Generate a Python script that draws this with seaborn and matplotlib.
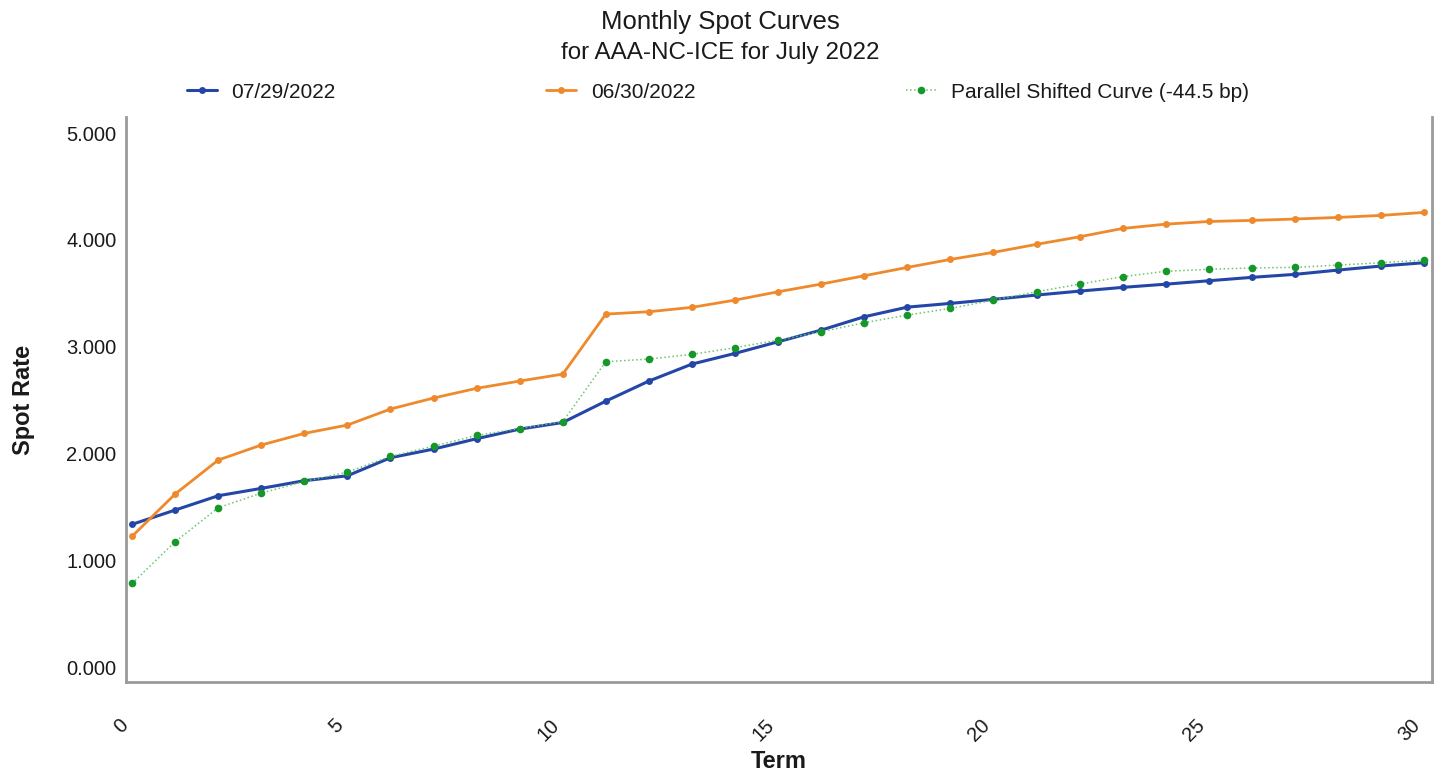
import numpy as np
import pandas as pd
import seaborn as sns
import matplotlib.pyplot as plt

terms = list(range(0, 31))

spot_0729 = [1.336, 1.470, 1.604, 1.673, 1.745, 1.791, 1.960, 2.041, 2.138, 2.228,
             2.290, 2.490, 2.678, 2.837, 2.937, 3.046, 3.155, 3.280, 3.370, 3.405,
             3.443, 3.483, 3.520, 3.555, 3.585, 3.617, 3.649, 3.677, 3.717, 3.755,
             3.786]

spot_0630 = [1.224, 1.620, 1.938, 2.079, 2.188, 2.266, 2.416, 2.519, 2.610, 2.678,
             2.743, 3.305, 3.327, 3.368, 3.436, 3.514, 3.586, 3.664, 3.742, 3.817,
             3.883, 3.958, 4.029, 4.107, 4.147, 4.172, 4.182, 4.195, 4.210, 4.229,
             4.257]

spot_shifted = [0.783, 1.173, 1.492, 1.629, 1.738, 1.825, 1.973, 2.068, 2.169, 2.233,
                2.298, 2.859, 2.884, 2.928, 2.990, 3.062, 3.140, 3.224, 3.296, 3.358,
                3.436, 3.514, 3.586, 3.655, 3.706, 3.724, 3.737, 3.742, 3.764, 3.786,
                3.811]

sns.set_style("white")
plt.rcParams['font.family'] = ['Liberation Sans', 'DejaVu Sans']

fig = plt.figure(figsize=(14.37, 7.73), dpi=100)
ax = fig.add_axes([0.0877, 0.1177, 0.9088, 0.7309])

df = pd.DataFrame({'Term': terms, 'a': spot_0729, 'b': spot_0630, 'c': spot_shifted})

sns.lineplot(data=df, x='Term', y='a', ax=ax, color='#2446a6', linewidth=2.2,
             marker='o', markersize=5, markeredgewidth=0, label='07/29/2022')
sns.lineplot(data=df, x='Term', y='b', ax=ax, color='#ee8a2c', linewidth=2.0,
             marker='o', markersize=5, markeredgewidth=0, label='06/30/2022')
sns.lineplot(data=df, x='Term', y='c', ax=ax, color='#6cc46c', linewidth=1.1,
             linestyle=':', marker='o', markersize=5.5, markerfacecolor='#16972a',
             markeredgewidth=0, label='Parallel Shifted Curve (-44.5 bp)')

ax.set_xlim(-0.14, 30.18)
ax.set_ylim(-0.14, 5.15)
ax.set_xticks([0, 5, 10, 15, 20, 25, 30])
ax.set_yticks([0, 1, 2, 3, 4, 5])
ax.set_yticklabels(['%.3f' % v for v in [0, 1, 2, 3, 4, 5]])
ax.tick_params(axis='x', labelsize=14.5, pad=24, length=0, labelcolor='#1a1a1a')
ax.tick_params(axis='y', labelsize=14.5, pad=7, length=0, labelcolor='#1a1a1a')
for lab in ax.get_xticklabels():
    lab.set_rotation(45)
    lab.set_ha('right')

ax.spines['top'].set_visible(False)
for s in ['left', 'bottom', 'right']:
    ax.spines[s].set_color('#9a9a9a')
    ax.spines[s].set_linewidth(2)

ax.set_xlabel('Term', fontsize=17, fontweight='bold', labelpad=4, color='#1a1a1a')
ax.set_ylabel('Spot Rate', fontsize=17, fontweight='bold', labelpad=22, color='#1a1a1a')

fig.text(0.501, 0.971, 'Monthly Spot Curves', ha='center', va='center',
         fontsize=18.5, color='#1a1a1a')
fig.text(0.501, 0.932, 'for AAA-NC-ICE for July 2022', ha='center', va='center',
         fontsize=17.4, color='#1a1a1a')

leg = ax.legend(loc='center left', bbox_to_anchor=(0.032, 1.044), ncol=3, frameon=False,
                fontsize=15, columnspacing=10.1, handlelength=1.44, handletextpad=0.72)
for t in leg.get_texts():
    t.set_color('#1a1a1a')

fig.savefig('out.png', dpi=100)
